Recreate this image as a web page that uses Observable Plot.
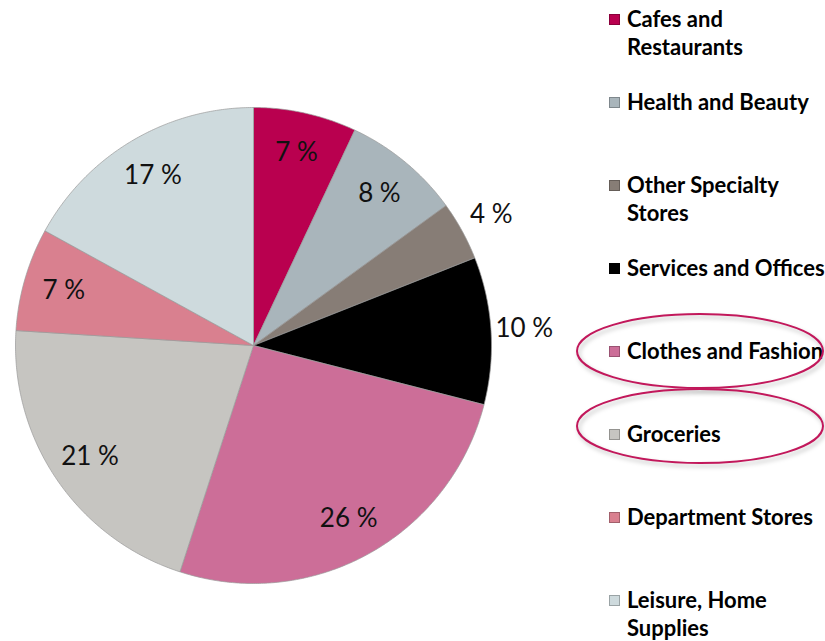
<!DOCTYPE html>
<html>
<head>
<meta charset="utf-8">
<script src="https://cdn.jsdelivr.net/npm/d3@7"></script>
<script src="https://cdn.jsdelivr.net/npm/@observablehq/plot@0.6"></script>
<style>
  html, body { margin: 0; padding: 0; background: #fff; }
  body { width: 825px; height: 641px; overflow: hidden; position: relative; }
  #wrap { position: absolute; left: 0; top: 0; width: 825px; height: 641px; }
  .leg-sw { position: absolute; width: 11px; height: 11px; box-sizing: border-box; border: 1px solid rgba(0,0,0,0.25); }
  .leg-tx { position: absolute; white-space: pre; font-family: Lato, "Open Sans", sans-serif; font-weight: 700; font-size: 22px; line-height: 28px; color: #000; }
  #ann { position: absolute; left: 0; top: 0; overflow: visible; }
</style>
</head>
<body>
<div id="wrap"></div>
<script>
// ---- data ----
const categories = [
  "Cafes and Restaurants",
  "Health and Beauty",
  "Other Specialty Stores",
  "Services and Offices",
  "Clothes and Fashion",
  "Groceries",
  "Department Stores",
  "Leisure, Home Supplies"
];
const values = [7, 8, 4, 10, 26, 21, 7, 17];
const colors = ["#b9004f", "#a9b5bb", "#877d76", "#000000", "#cc6e98", "#c6c5c1", "#d9808f", "#cedadd"];
const legendLabels = [
  "Cafes and\nRestaurants",
  "Health and Beauty",
  "Other Specialty\nStores",
  "Services and Offices",
  "Clothes and Fashion",
  "Groceries",
  "Department Stores",
  "Leisure, Home\nSupplies"
];
const highlighted = ["Clothes and Fashion", "Groceries"];
const outsideLabels = ["Other Specialty Stores", "Services and Offices"];

// ---- geometry from data ----
const total = d3.sum(values);
const points = [];
const labels = [];
let acc = 0;
categories.forEach((cat, i) => {
  const a0 = acc / total * 2 * Math.PI;
  acc += values[i];
  const a1 = acc / total * 2 * Math.PI;
  const n = Math.max(2, Math.ceil((a1 - a0) / (Math.PI / 360)));
  points.push({cat, x: 0, y: 0});
  for (let k = 0; k <= n; k++) {
    const a = a0 + (a1 - a0) * k / n;
    points.push({cat, x: Math.sin(a), y: Math.cos(a)});
  }
  points.push({cat, x: 0, y: 0});
  const am = (a0 + a1) / 2;
  const outside = outsideLabels.includes(cat);
  const r = outside ? 1.14 : 0.83;
  labels.push({cat, text: `${values[i]} %`, x: r * Math.sin(am), y: r * Math.cos(am)});
});

const W = 825, H = 641;
const chart = Plot.plot({
  width: W,
  height: H,
  marginLeft: 15,
  marginRight: 334,
  marginTop: 107,
  marginBottom: 58,
  x: {domain: [-1, 1], axis: null},
  y: {domain: [-1, 1], axis: null},
  color: {domain: categories, range: colors},
  style: {background: "#fff", overflow: "visible"},
  marks: [
    Plot.line(points, {x: "x", y: "y", z: "cat", fill: "cat", stroke: "#9a9a9a", strokeWidth: 0.7, strokeLinejoin: "round", curve: "linear"}),
    Plot.text(labels, {x: "x", y: "y", text: "text", fill: "#111", fontSize: 26, fontFamily: "Lato, 'Open Sans', sans-serif"})
  ]
});
const wrap = document.getElementById("wrap");
wrap.appendChild(chart);

// ---- legend ----
const legTop = 19, legStep = 83, swX = 609, txX = 627;
categories.forEach((cat, i) => {
  const cy = legTop + i * legStep;
  const sw = document.createElement("div");
  sw.className = "leg-sw";
  sw.style.left = swX + "px";
  sw.style.top = (cy - 5.5) + "px";
  sw.style.background = colors[i];
  wrap.appendChild(sw);
  const tx = document.createElement("div");
  tx.className = "leg-tx";
  tx.style.left = txX + "px";
  tx.style.top = (cy - 14) + "px";
  tx.textContent = legendLabels[i];
  wrap.appendChild(tx);
});

// ---- highlight ellipses ----
const ns = "http://www.w3.org/2000/svg";
const ann = document.createElementNS(ns, "svg");
ann.setAttribute("id", "ann");
ann.setAttribute("width", W);
ann.setAttribute("height", H);
highlighted.forEach(cat => {
  const i = categories.indexOf(cat);
  const cy = legTop + i * legStep + (cat === "Groceries" ? -8 : 0);
  const e = document.createElementNS(ns, "ellipse");
  e.setAttribute("cx", 700);
  e.setAttribute("cy", cy);
  e.setAttribute("rx", 123);
  e.setAttribute("ry", 37);
  e.setAttribute("fill", "none");
  e.setAttribute("stroke", "#c2185b");
  e.setAttribute("stroke-width", 2);
  e.setAttribute("style", "filter: drop-shadow(2px 3px 2px rgba(0,0,0,0.25))");
  ann.appendChild(e);
});
wrap.appendChild(ann);
</script>
</body>
</html>
